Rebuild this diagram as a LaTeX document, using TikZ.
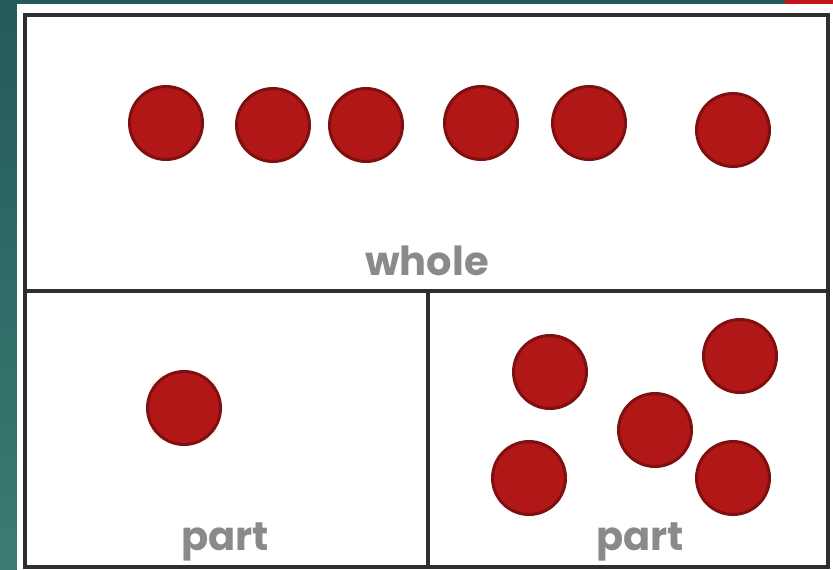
\documentclass[tikz,border=0pt]{standalone}
\usepackage{fontspec}
\setmainfont{Poppins}
\begin{document}
\begin{tikzpicture}[x=1pt,y=-1pt,
  dot/.style={circle,draw=dotedge,fill=dotfill,line width=3pt,minimum size=73pt,inner sep=0pt},
  frameline/.style={draw=frameclr,line width=3.2pt},
  lbl/.style={text=lblclr,font=\bfseries\fontsize{40}{40}\selectfont,inner sep=0pt}]
\definecolor{dotfill}{HTML}{B01716}
\definecolor{dotedge}{HTML}{7E1010}
\definecolor{frameclr}{HTML}{2E2E2E}
\definecolor{lblclr}{HTML}{8A8A8A}
\definecolor{tealtop}{HTML}{245A5C}
\definecolor{tealbot}{HTML}{3A7C72}
\definecolor{redpatch}{HTML}{C4151C}
\useasboundingbox (0,0) rectangle (833,570);
\shade[top color=tealtop,bottom color=tealbot] (0,0) rectangle (833,570);
\fill[redpatch] (785,0) rectangle (833,4);
\fill[white] (17,4) rectangle (833,570);
% frame
\draw[frameline] (25,15) rectangle (828,567);
\coordinate (mL) at (25,291);
\coordinate (mR) at (828,291);
\coordinate (vT) at (428,291);
\coordinate (vB) at (428,567);
\draw[frameline] (mL) -- (mR);
\draw[frameline] (vT) -- (vB);
% whole dots
\node[dot] (w1) at (166,123) {};
\node[dot] (w2) at (273,125) {};
\node[dot] (w3) at (366,125) {};
\node[dot] (w4) at (481,123) {};
\node[dot] (w5) at (589,123) {};
\node[dot] (w6) at (733,130) {};
% part dots
\node[dot] (p1) at (184,408) {};
\node[dot] (q1) at (550,372) {};
\node[dot] (q2) at (740,356) {};
\node[dot] (q3) at (655,430) {};
\node[dot] (q4) at (529,478) {};
\node[dot] (q5) at (733,478) {};
% labels
\node[lbl,anchor=base] (whole) at (427,275) {whole};
\node[lbl,anchor=base] (partA) at (225,550) {part};
\node[lbl,anchor=base] (partB) at (640,550) {part};
\end{tikzpicture}
\end{document}
